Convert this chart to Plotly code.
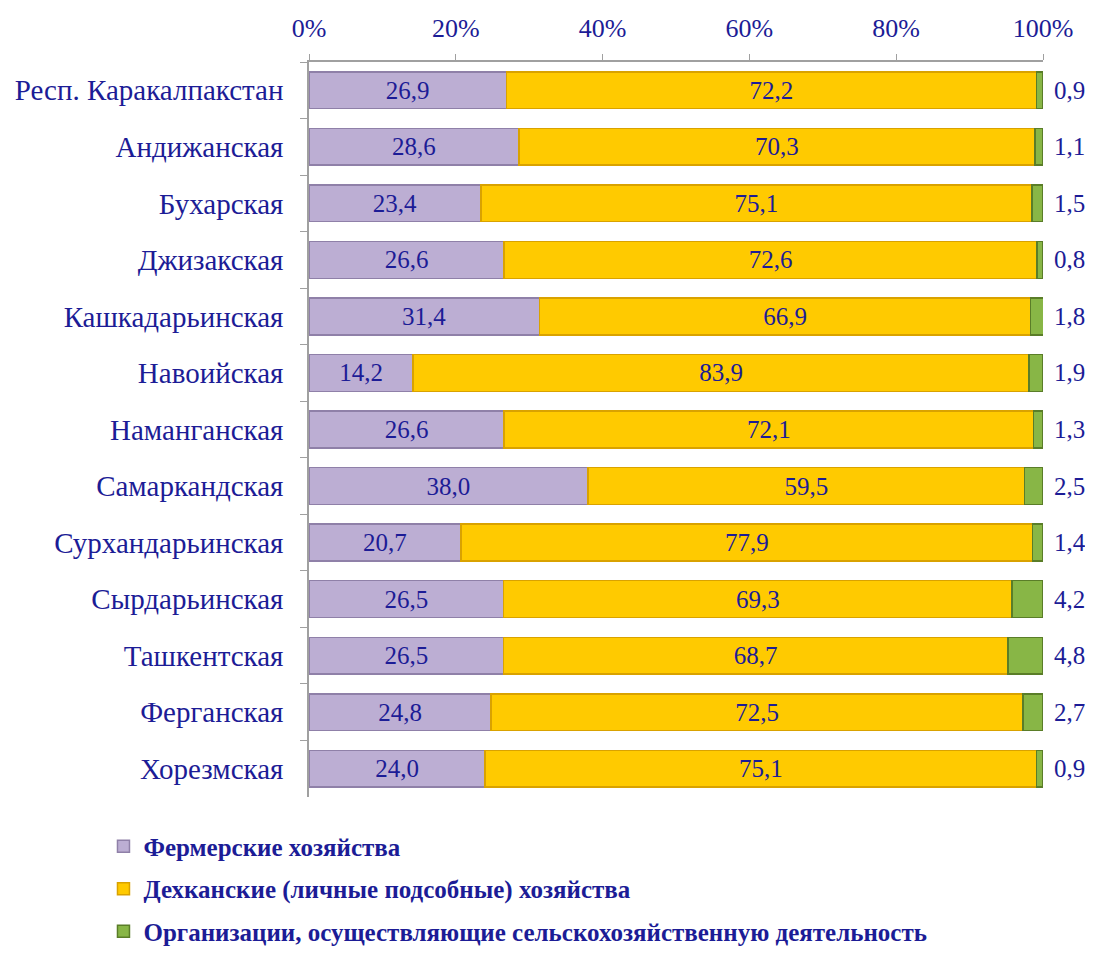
import plotly.graph_objects as go

regions = ["Респ. Каракалпакстан", "Андижанская", "Бухарская", "Джизакская",
           "Кашкадарьинская", "Навоийская", "Наманганская", "Самаркандская",
           "Сурхандарьинская", "Сырдарьинская", "Ташкентская", "Ферганская", "Хорезмская"]
farm = [26.9, 28.6, 23.4, 26.6, 31.4, 14.2, 26.6, 38.0, 20.7, 26.5, 26.5, 24.8, 24.0]
dehkan = [72.2, 70.3, 75.1, 72.6, 66.9, 83.9, 72.1, 59.5, 77.9, 69.3, 68.7, 72.5, 75.1]
org = [0.9, 1.1, 1.5, 0.8, 1.8, 1.9, 1.3, 2.5, 1.4, 4.2, 4.8, 2.7, 0.9]
names = ["Фермерские хозяйства",
         "Дехканские (личные подсобные) хозяйства",
         "Организации, осуществляющие сельскохозяйственную деятельность"]
tick_vals = [0, 20, 40, 60, 80, 100]
tick_text = ["0%", "20%", "40%", "60%", "80%", "100%"]

def fmt(v):
    return f"{v:.1f}".replace(".", ",")

navy = "#1c1c96"
font_family = "Liberation Serif, Times New Roman, serif"

fig = go.Figure()
fig.add_trace(go.Bar(
    y=regions, x=farm, orientation="h", name=names[0],
    marker=dict(color="#bcaed3", line=dict(color="#8f80a8", width=1.5)),
    text=[fmt(v) for v in farm], textposition="inside", insidetextanchor="middle",
    textangle=0, textfont=dict(size=25, color=navy, family=font_family),
    legendgroup="a"))
fig.add_trace(go.Bar(
    y=regions, x=dehkan, orientation="h", name=names[1],
    marker=dict(color="#ffca00", line=dict(color="#d9a200", width=1.5)),
    text=[fmt(v) for v in dehkan], textposition="inside", insidetextanchor="middle",
    textangle=0, textfont=dict(size=25, color=navy, family=font_family),
    legendgroup="b"))
fig.add_trace(go.Bar(
    y=regions, x=org, orientation="h", name=names[2],
    marker=dict(color="#88b646", line=dict(color="#5a7d28", width=1.5)),
    textposition="none", legendgroup="c"))

for r, a, b, c in zip(regions, farm, dehkan, org):
    fig.add_annotation(x=min(a + b + c, 100), y=r, text=fmt(c), showarrow=False,
                       xanchor="left", xshift=9,
                       font=dict(size=25, color=navy, family=font_family))

fig.update_layout(
    width=1077, height=943, barmode="stack", bargap=0.35,
    plot_bgcolor="white", paper_bgcolor="white",
    margin=dict(l=301, r=42, t=54, b=154, autoexpand=False),
    font=dict(family=font_family, color=navy),
    xaxis=dict(side="top", range=[0, 100], tickvals=tick_vals, ticktext=tick_text,
               showgrid=False, zeroline=False, showline=True, linecolor="#a0a0a0",
               linewidth=1.5, ticks="outside", ticklen=6, tickcolor="#a0a0a0",
               ticklabelstandoff=7, automargin=False,
               tickfont=dict(size=26, color=navy, family=font_family)),
    yaxis=dict(autorange="reversed", showgrid=False, showline=True, linecolor="#a0a0a0",
               linewidth=1.5, ticks="outside", ticklen=7, tickcolor="#a0a0a0",
               tickson="boundaries", ticklabelstandoff=18, automargin=False,
               tickfont=dict(size=29, color=navy, family=font_family)),
    legend=dict(orientation="v", x=-0.28, xanchor="left", y=-0.036, yanchor="top",
                font=dict(size=25, color=navy, family=font_family, weight="bold"),
                tracegroupgap=7, itemwidth=30, traceorder="grouped"),
)

fig.write_html("out.html")
